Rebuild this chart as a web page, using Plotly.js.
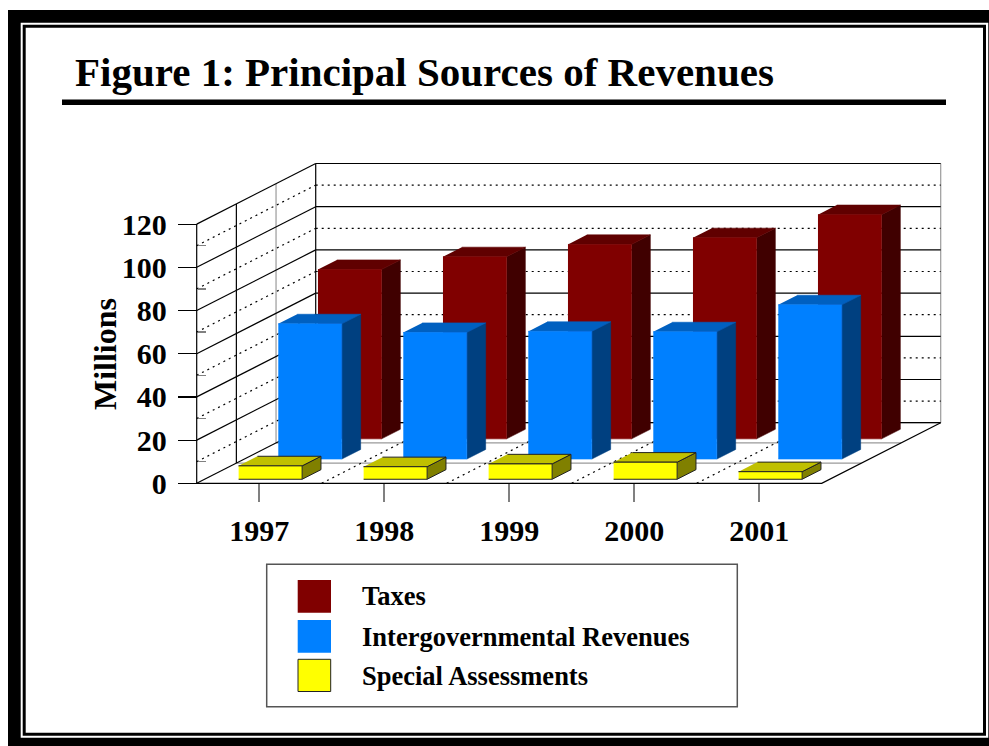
<!DOCTYPE html>
<html><head><meta charset="utf-8">
<script src="https://cdn.plot.ly/plotly-3.0.1.min.js"></script>
<style>body{margin:0;background:#fff}#chart{width:989px;height:746px}</style>
</head><body><div id="chart"></div>
<script>
// ---- data ----
const years = ['1997','1998','1999','2000','2001'];
const taxes = [78.4, 84.3, 90.0, 93.1, 103.8];
const intergov = [62.6, 58.6, 59.1, 58.9, 71.4];
const special = [6.2, 5.8, 7.1, 7.9, 3.5];
const seriesNames = ['Taxes','Intergovernmental Revenues','Special Assessments'];
const yTicks = [0,20,40,60,80,100,120];
const yMinor = [10,30,50,70,90,110];

// ---- geometry ----
const W = 989, H = 746;
const X0PX = 196.7, Y0PX = 483.3, CW = 125, S = 2.16;
const DX = 39.67 / CW, DY = 20.2 / S;
const NC = years.length, NZ = 3, VMAX = 120;
const P = (x, v, z) => [x + z * DX, v + z * DY];
const px = x => x / W, py = y => 1 - y / H;

function segs(list) {
  const xs = [], ys = [];
  list.forEach(pts => {
    pts.forEach(p => { xs.push(p[0]); ys.push(p[1]); });
    xs.push(null); ys.push(null);
  });
  return {x: xs, y: ys};
}
function lineTrace(list, color, width, dash) {
  const s = segs(list);
  return {type:'scatter', mode:'lines', x:s.x, y:s.y, hoverinfo:'skip', showlegend:false,
    line:{color:color, width:width, dash:dash || 'solid'}, cliponaxis:false};
}

const solid = [], dotted = [], grey = [];
// back wall
yTicks.forEach(v => solid.push([P(0, v, NZ), P(NC, v, NZ)]));
yMinor.forEach(v => dotted.push([P(0, v, NZ), P(NC, v, NZ)]));
solid.push([P(0, 0, NZ), P(0, VMAX, NZ)]);
grey.push([P(NC, 0, NZ), P(NC, VMAX, NZ)]);
// left wall
yTicks.forEach(v => solid.push([P(0, v, 0), P(0, v, NZ)]));
yMinor.forEach(v => dotted.push([P(0, v, 0), P(0, v, NZ)]));
solid.push([P(0, 0, 0), P(0, VMAX, 0)]);
solid.push([P(0, 0, 1), P(0, VMAX, 1)]);
grey.push([P(0, 0, 2), P(0, VMAX, 2)]);
// floor
solid.push([P(0, 0, 0), P(NC, 0, 0), P(NC, 0, NZ)]);
grey.push([P(0, 0, 1), P(NC, 0, 1)]);
grey.push([P(0, 0, 2), P(NC, 0, 2)]);
grey.push([P(0, 0, NZ), P(NC, 0, NZ)]);
for (let i = 1; i < NC; i++) dotted.push([P(i, 0, 0), P(i, 0, NZ)]);

const traces = [
  lineTrace(grey, '#9a9a9a', 1.2),
  lineTrace(dotted, '#000', 1.2, '2px,4px'),
  lineTrace(solid, '#000', 1.2)
];

// ---- bars ----
const BL = 34 / CW, BW = 63.5 / CW, ZF = 0.2, ZD = 0.475;
function barTraces(vals, row, name, cFront, cTop, cSide, edge) {
  const front = [], top = [], side = [];
  vals.forEach((v, i) => {
    const xl = i + BL, xr = i + BL + BW, zf = row + ZF, zb = row + ZF + ZD;
    front.push([P(xl,0,zf), P(xr,0,zf), P(xr,v,zf), P(xl,v,zf)]);
    top.push([P(xl,v,zf), P(xr,v,zf), P(xr,v,zb), P(xl,v,zb)]);
    side.push([P(xr,0,zf), P(xr,0,zb), P(xr,v,zb), P(xr,v,zf)]);
  });
  const mk = (list, col) => {
    const s = segs(list);
    return {type:'scatter', mode:'lines', x:s.x, y:s.y, fill:'toself', fillcolor:col, name:name,
      hoverinfo:'skip', showlegend:false,
      line:{color: edge || col, width: edge ? 1 : 0.6}};
  };
  return [mk(side, cSide), mk(top, cTop), mk(front, cFront)];
}
traces.push(...barTraces(taxes, 2, seriesNames[0], '#800000', '#600000', '#400000'));
traces.push(...barTraces(intergov, 1, seriesNames[1], '#0080FF', '#0060C0', '#004080'));
traces.push(...barTraces(special, 0, seriesNames[2], '#FFFF00', '#C0C000', '#808000', '#222'));

// ---- frame, legend ----
const rectPx = (x0, y0, x1, y1, o) => Object.assign({type:'rect', xref:'paper', yref:'paper',
  x0: px(x0), x1: px(x1), y0: py(y0), y1: py(y1), layer:'below'}, o);
const shapes = [
  rectPx(8, 10, 1005, 760, {fillcolor:'#000', line:{width:0}}),
  rectPx(20.7, 22.7, 988.3, 737.7, {fillcolor:'#fff', line:{width:0}}),
  rectPx(24.2, 26.3, 984.5, 734.2, {fillcolor:'rgba(0,0,0,0)', line:{color:'#000', width:3}}),
  {type:'line', xref:'paper', yref:'paper', x0:px(62), x1:px(946), y0:py(102.2), y1:py(102.2),
    line:{color:'#000', width:5.5}, layer:'below'},
  rectPx(266.7, 564.3, 737.3, 706.7, {fillcolor:'rgba(0,0,0,0)', line:{color:'#555', width:1.5}}),
  rectPx(297.7, 580, 331, 612.7, {fillcolor:'#800000', line:{width:0}, layer:'above'}),
  rectPx(297.7, 620, 331, 652.7, {fillcolor:'#0080FF', line:{width:0}, layer:'above'}),
  rectPx(298, 659.3, 330.7, 691.5, {fillcolor:'#FFFF00', line:{color:'#222', width:1}, layer:'above'})
];
const serif = 'Liberation Serif, Times New Roman, serif';
const legY = [596, 636.5, 675.5];
const annotations = seriesNames.map((n, k) => ({
  xref:'paper', yref:'paper', x: px(360), y: py(legY[k]), xanchor:'left', yanchor:'middle',
  text:'<b>' + n + '</b>', showarrow:false, font:{family:serif, size:26.5, color:'#000'}
}));
annotations.push({xref:'paper', yref:'paper', x:px(105), y:py(354), textangle:-90,
  xanchor:'center', yanchor:'middle', text:'<b>Millions</b>', showarrow:false,
  font:{family:serif, size:32, color:'#000'}});

const layout = {
  width: W, height: H, margin:{l:0, r:0, t:0, b:0, pad:0},
  paper_bgcolor:'#fff', plot_bgcolor:'rgba(0,0,0,0)', showlegend:false,
  title:{text:'<b>Figure 1: Principal Sources of Revenues</b>', font:{family:serif, size:41, color:'#000'},
    x: 75 / W, xanchor:'left', xref:'paper', y: 1 - 72 / H, yanchor:'middle', yref:'container'},
  xaxis:{range:[-X0PX / CW, (W - X0PX) / CW], anchor:'free', position:(H - Y0PX) / H,
    tickmode:'array', tickvals: years.map((_, i) => i + 0.5), ticktext: years.map(y => '<b>' + y + '</b>'),
    ticks:'outside', ticklen:18, tickcolor:'#808080', tickwidth:1.5, ticklabelstandoff:3,
    showgrid:false, zeroline:false, showline:false, fixedrange:true,
    tickfont:{family:serif, size:30, color:'#000'}},
  yaxis:{range:[(Y0PX - H) / S, Y0PX / S], anchor:'free', position: X0PX / W,
    tickmode:'array', tickvals:yTicks, ticktext:yTicks.map(v => '<b>' + v + '</b>'),
    ticks:'outside', ticklen:19, tickcolor:'#000', tickwidth:1.2, ticklabelstandoff:5,
    minor:{tickmode:'array', tickvals:yMinor, ticks:'inside', ticklen:8, tickcolor:'#808080', tickwidth:1.5, showgrid:false},
    showgrid:false, zeroline:false, showline:false, fixedrange:true,
    tickfont:{family:serif, size:30, color:'#000'}},
  shapes: shapes, annotations: annotations
};
Plotly.newPlot('chart', traces, layout, {displayModeBar:false, staticPlot:true});
</script>
</body></html>
